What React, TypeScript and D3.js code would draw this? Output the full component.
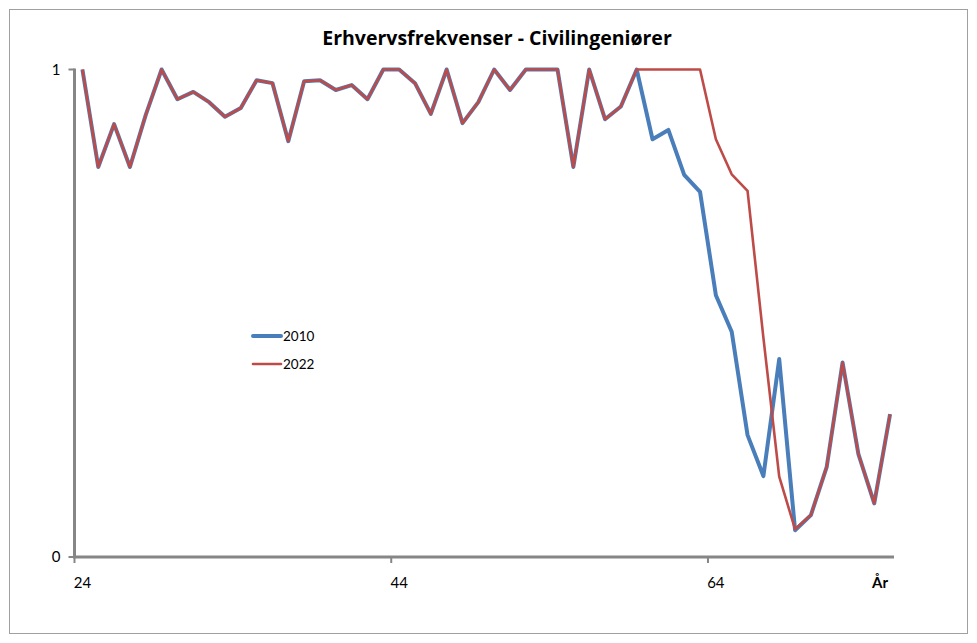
import React, { useEffect, useRef } from 'react';
import * as d3 from 'd3';

// ages on the category axis (24..75)
const ages: number[] = d3.range(24, 76);

// erhvervsfrekvens per age
const series2010: number[] = [
  1.0, 0.8, 0.888, 0.8, 0.907, 1.0, 0.939, 0.954, 0.933, 0.903,
  0.921, 0.978, 0.972, 0.853, 0.976, 0.978, 0.958, 0.968, 0.939, 1.0,
  1.0, 0.972, 0.909, 1.0, 0.89, 0.933, 1.0, 0.958, 1.0, 1.0,
  1.0, 0.8, 1.0, 0.898, 0.924, 1.0, 0.857, 0.876, 0.784, 0.749,
  0.537, 0.462, 0.25, 0.166, 0.406, 0.055, 0.086, 0.185, 0.399, 0.211,
  0.11, 0.293,
];

const series2022: number[] = [
  1.0, 0.8, 0.888, 0.8, 0.907, 1.0, 0.939, 0.954, 0.933, 0.903,
  0.921, 0.978, 0.972, 0.853, 0.976, 0.978, 0.958, 0.968, 0.939, 1.0,
  1.0, 0.972, 0.909, 1.0, 0.89, 0.933, 1.0, 0.958, 1.0, 1.0,
  1.0, 0.8, 1.0, 0.898, 0.924, 1.0, 1.0, 1.0, 1.0, 1.0,
  0.857, 0.785, 0.751, 0.45, 0.165, 0.057, 0.086, 0.185, 0.399, 0.211,
  0.11, 0.293,
];

const seriesNames = ['2010', '2022'];
const xTickLabels = [24, 44, 64];
const yTicks = [0, 1];

const W = 977;
const H = 643;
const FONT = 'Lato, "Open Sans", sans-serif';

const App: React.FC = () => {
  const svgRef = useRef<SVGSVGElement>(null);

  useEffect(() => {
    if (!svgRef.current) return;
    const svg = d3.select(svgRef.current);
    svg.selectAll('*').remove();

    const plot = { left: 74.5, right: 898, top: 69.5, bottom: 557 };

    const x = d3.scaleBand<number>()
      .domain(ages)
      .range([plot.left, plot.right])
      .padding(0);
    const cx = (a: number) => (x(a) as number) + x.bandwidth() / 2;

    const y = d3.scaleLinear().domain([0, 1]).range([plot.bottom, plot.top]);

    // chart area border
    svg.append('rect')
      .attr('x', 9.5).attr('y', 9.5)
      .attr('width', 958).attr('height', 624)
      .attr('fill', 'white')
      .attr('stroke', '#a0a0a0')
      .attr('stroke-width', 1);

    // title
    svg.append('text')
      .attr('x', 497).attr('y', 45)
      .attr('text-anchor', 'middle')
      .style('font-family', '"Open Sans", Lato, sans-serif')
      .style('font-size', '19.5px')
      .style('font-weight', '700')
      .attr('fill', '#000')
      .text('Erhvervsfrekvenser - Civilingeniører');

    const axisColor = '#868686';

    // y axis
    svg.append('line')
      .attr('x1', plot.left).attr('x2', plot.left)
      .attr('y1', plot.top - 1).attr('y2', plot.bottom)
      .attr('stroke', axisColor).attr('stroke-width', 3);

    yTicks.forEach(t => {
      svg.append('line')
        .attr('x1', plot.left - 6).attr('x2', plot.left)
        .attr('y1', y(t)).attr('y2', y(t))
        .attr('stroke', axisColor).attr('stroke-width', 2);
      svg.append('text')
        .attr('x', plot.left - 14).attr('y', y(t))
        .attr('dy', '0.35em')
        .attr('text-anchor', 'end')
        .style('font-family', FONT)
        .style('font-size', '15px')
        .text(String(t));
    });

    // x axis
    svg.append('line')
      .attr('x1', plot.left - 1.5).attr('x2', plot.right - 4)
      .attr('y1', plot.bottom).attr('y2', plot.bottom)
      .attr('stroke', axisColor).attr('stroke-width', 3);

    xTickLabels.forEach(a => {
      const tx = x(a) as number;
      svg.append('line')
        .attr('x1', tx).attr('x2', tx)
        .attr('y1', plot.bottom).attr('y2', plot.bottom + 6)
        .attr('stroke', axisColor).attr('stroke-width', 2);
      svg.append('text')
        .attr('x', cx(a)).attr('y', plot.bottom + 31)
        .attr('text-anchor', 'middle')
        .style('font-family', FONT)
        .style('font-size', '15px')
        .text(String(a));
    });

    svg.append('text')
      .attr('x', 880).attr('y', plot.bottom + 31)
      .attr('text-anchor', 'middle')
      .style('font-family', FONT)
      .style('font-size', '15px')
      .style('font-weight', '700')
      .text('År');

    const line = d3.line<number>()
      .x((_, i) => cx(ages[i]))
      .y(d => y(d));

    const styles = [
      { color: '#4a7ebb', width: 4 },
      { color: '#be4b48', width: 2.6 },
    ];
    const data = [series2010, series2022];

    data.forEach((s, i) => {
      svg.append('path')
        .datum(s)
        .attr('fill', 'none')
        .attr('stroke', styles[i].color)
        .attr('stroke-width', styles[i].width)
        .attr('stroke-linejoin', 'round')
        .attr('d', line);
    });

    // legend
    const legend = svg.append('g').attr('transform', 'translate(253,336)');
    seriesNames.forEach((name, i) => {
      const g = legend.append('g').attr('transform', `translate(0,${i * 28})`);
      g.append('line')
        .attr('x1', 0).attr('x2', 28)
        .attr('y1', 0).attr('y2', 0)
        .attr('stroke', styles[i].color)
        .attr('stroke-width', i === 0 ? 4 : 2.6)
        .attr('stroke-linecap', 'round');
      g.append('text')
        .attr('x', 30).attr('y', 0)
        .attr('dy', '0.35em')
        .style('font-family', FONT)
        .style('font-size', '13.5px')
        .text(name);
    });
  }, []);

  return (
    <svg
      ref={svgRef}
      width={W}
      height={H}
      style={{ position: 'absolute', left: 0, top: 0, background: 'white' }}
    />
  );
};

export default App;
